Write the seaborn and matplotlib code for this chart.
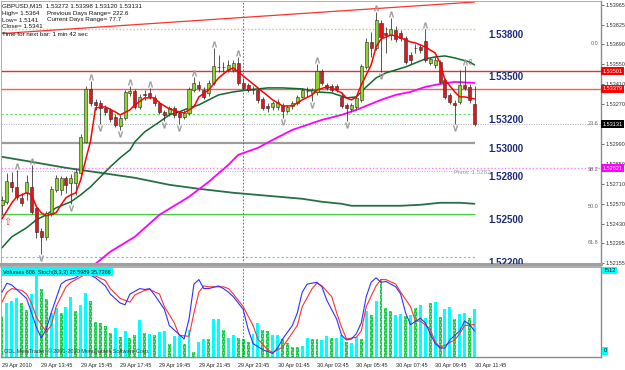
import matplotlib
matplotlib.use("Agg")
import matplotlib.pyplot as plt
import seaborn as sns
import numpy as np
import pandas as pd

# GBPUSD M15 candles, 29 Apr 2010 11:45 -> 30 Apr 2010 11:45
opens = [1.52565, 1.52586, 1.52726, 1.52691, 1.52614, 1.52649, 1.52691, 1.52544, 1.52383, 1.52341,
         1.52502, 1.52670, 1.52670, 1.52754, 1.52719, 1.52719, 1.52789, 1.53006, 1.53377, 1.53286,
         1.53279, 1.53244, 1.53230, 1.53181, 1.53118, 1.53174, 1.53349, 1.53363, 1.53251, 1.53342,
         1.53349, 1.53314, 1.53279, 1.53216, 1.53209, 1.53244, 1.53209, 1.53181, 1.53209, 1.53370,
         1.53405, 1.53370, 1.53349, 1.53419, 1.53531, 1.53531, 1.53510, 1.53510, 1.53559, 1.53419,
         1.53405, 1.53370, 1.53370, 1.53307, 1.53258, 1.53251, 1.53251, 1.53258, 1.53223, 1.53258,
         1.53279, 1.53321, 1.53363, 1.53349, 1.53356, 1.53503, 1.53405, 1.53398, 1.53398, 1.53321,
         1.53265, 1.53237, 1.53251, 1.53300, 1.53531, 1.53706, 1.53664, 1.53839, 1.53769, 1.53755,
         1.53790, 1.53769, 1.53734, 1.53615, 1.53664, 1.53671, 1.53713, 1.53559, 1.53545, 1.53566,
         1.53440, 1.53335, 1.53279, 1.53286, 1.53405, 1.53391, 1.53272]
highs = [1.52628, 1.52789, 1.52796, 1.52810, 1.52649, 1.52775, 1.52845, 1.52565, 1.52404, 1.52523,
         1.52698, 1.52775, 1.52768, 1.52768, 1.52782, 1.52824, 1.53062, 1.53398, 1.53433, 1.53307,
         1.53300, 1.53265, 1.53244, 1.53202, 1.53195, 1.53370, 1.53398, 1.53377, 1.53342, 1.53370,
         1.53384, 1.53335, 1.53293, 1.53230, 1.53258, 1.53258, 1.53223, 1.53230, 1.53391, 1.53461,
         1.53433, 1.53391, 1.53440, 1.53664, 1.53615, 1.53566, 1.53580, 1.53580, 1.53601, 1.53454,
         1.53419, 1.53398, 1.53384, 1.53321, 1.53279, 1.53293, 1.53307, 1.53279, 1.53265, 1.53293,
         1.53335, 1.53384, 1.53391, 1.53384, 1.53552, 1.53517, 1.53419, 1.53412, 1.53412, 1.53356,
         1.53279, 1.53279, 1.53328, 1.53552, 1.53734, 1.53776, 1.53916, 1.53860, 1.53811, 1.53874,
         1.53818, 1.53790, 1.53748, 1.53636, 1.53692, 1.53692, 1.53797, 1.53601, 1.53601, 1.53580,
         1.53454, 1.53349, 1.53300, 1.53510, 1.53538, 1.53412, 1.53398]
lows = [1.52495, 1.52572, 1.52656, 1.52600, 1.52558, 1.52600, 1.52502, 1.52334, 1.52222, 1.52320,
        1.52488, 1.52656, 1.52635, 1.52649, 1.52572, 1.52635, 1.52754, 1.52999, 1.53258, 1.53230,
        1.53132, 1.53195, 1.53146, 1.53111, 1.53090, 1.53160, 1.53328, 1.53237, 1.53237, 1.53300,
        1.53307, 1.53258, 1.53202, 1.53153, 1.53188, 1.53174, 1.53132, 1.53167, 1.53195, 1.53356,
        1.53363, 1.53307, 1.53328, 1.53405, 1.53496, 1.53496, 1.53496, 1.53496, 1.53405, 1.53370,
        1.53356, 1.53342, 1.53279, 1.53230, 1.53216, 1.53230, 1.53230, 1.53174, 1.53209, 1.53237,
        1.53265, 1.53314, 1.53321, 1.53293, 1.53335, 1.53405, 1.53370, 1.53356, 1.53356, 1.53244,
        1.53153, 1.53216, 1.53230, 1.53286, 1.53517, 1.53601, 1.53650, 1.53496, 1.53629, 1.53720,
        1.53706, 1.53713, 1.53552, 1.53552, 1.53629, 1.53629, 1.53566, 1.53545, 1.53524, 1.53412,
        1.53307, 1.53272, 1.53132, 1.53272, 1.53370, 1.53279, 1.53120]
closes = [1.52600, 1.52733, 1.52691, 1.52621, 1.52579, 1.52726, 1.52516, 1.52376, 1.52341, 1.52509,
          1.52677, 1.52754, 1.52754, 1.52705, 1.52754, 1.52796, 1.53041, 1.53377, 1.53279, 1.53265,
          1.53244, 1.53216, 1.53167, 1.53125, 1.53174, 1.53356, 1.53363, 1.53251, 1.53321, 1.53335,
          1.53321, 1.53279, 1.53216, 1.53195, 1.53244, 1.53195, 1.53181, 1.53209, 1.53377, 1.53419,
          1.53384, 1.53321, 1.53419, 1.53538, 1.53531, 1.53531, 1.53545, 1.53559, 1.53419, 1.53384,
          1.53370, 1.53370, 1.53300, 1.53244, 1.53244, 1.53279, 1.53286, 1.53223, 1.53251, 1.53279,
          1.53321, 1.53370, 1.53363, 1.53370, 1.53503, 1.53419, 1.53384, 1.53370, 1.53377, 1.53258,
          1.53244, 1.53265, 1.53314, 1.53538, 1.53706, 1.53664, 1.53860, 1.53741, 1.53755, 1.53797,
          1.53727, 1.53734, 1.53566, 1.53580, 1.53664, 1.53650, 1.53580, 1.53587, 1.53580, 1.53426,
          1.53321, 1.53286, 1.53265, 1.53405, 1.53384, 1.53300, 1.53131]

# moving averages (sampled along the drawn lines)
fast_bars = [0, 2, 3, 5, 6, 7, 8, 9, 11, 12, 13, 14, 15, 16, 17, 18, 19, 21, 23, 24,
             26, 27, 29, 31, 32, 34, 36, 37, 39, 40, 42, 44, 46, 47, 48, 50, 52, 53, 55, 57,
             59, 61, 63, 64, 66, 67, 69, 70, 71, 72, 73, 75, 76, 77, 79, 80, 81, 83, 84, 86,
             87, 88, 89, 90, 92, 93, 94, 96]
fast_ma = [1.52467, 1.52579, 1.52621, 1.52649, 1.52635, 1.52551, 1.52509, 1.52488, 1.52509, 1.52565,
           1.52614, 1.52635, 1.52649, 1.52740, 1.52880, 1.53013, 1.53244, 1.53251, 1.53216, 1.53195,
           1.53230, 1.53265, 1.53314, 1.53314, 1.53279, 1.53237, 1.53216, 1.53209, 1.53251, 1.53321,
           1.53370, 1.53454, 1.53510, 1.53524, 1.53496, 1.53440, 1.53384, 1.53356, 1.53300, 1.53258,
           1.53258, 1.53300, 1.53335, 1.53370, 1.53391, 1.53384, 1.53349, 1.53314, 1.53300, 1.53321,
           1.53405, 1.53545, 1.53671, 1.53727, 1.53755, 1.53748, 1.53734, 1.53706, 1.53699, 1.53671,
           1.53650, 1.53629, 1.53559, 1.53440, 1.53356, 1.53321, 1.53321, 1.53307]
mid_bars = [0, 2, 5, 7, 9, 11, 14, 16, 18, 20, 22, 24, 26, 27, 29, 32, 34, 36, 38, 40,
            42, 44, 47, 50, 54, 57, 61, 64, 67, 70, 72, 74, 76, 78, 80, 82, 84, 86, 88, 90,
            92, 95, 96]
mid_ma = [1.52264, 1.52341, 1.52404, 1.52460, 1.52495, 1.52544, 1.52586, 1.52635, 1.52691, 1.52761,
          1.52831, 1.52894, 1.52950, 1.53006, 1.53076, 1.53146, 1.53195, 1.53216, 1.53244, 1.53265,
          1.53300, 1.53335, 1.53356, 1.53370, 1.53384, 1.53384, 1.53377, 1.53356, 1.53349, 1.53314,
          1.53321, 1.53391, 1.53454, 1.53489, 1.53510, 1.53531, 1.53559, 1.53587, 1.53601, 1.53608,
          1.53594, 1.53566, 1.53545]
slow_bars = [0, 6, 13, 20, 27, 34, 40, 47, 54, 61, 65, 69, 71, 81, 85, 89, 93, 96]
slow_ma = [1.52901, 1.52866, 1.52824, 1.52789, 1.52754, 1.52705, 1.52677, 1.52649, 1.52628, 1.52607,
           1.52586, 1.52572, 1.52558, 1.52558, 1.52565, 1.52579, 1.52579, 1.52572]
mag_bars = [18, 22, 27, 32, 38, 42, 46, 48, 52, 55, 59, 65, 69, 72, 74, 77, 80, 83, 86, 89, 92, 96]
mag_ma = [1.52124, 1.52236, 1.52341, 1.52495, 1.52621, 1.52726, 1.52845, 1.52915, 1.52964, 1.53020,
          1.53090, 1.53160, 1.53195, 1.53230, 1.53258, 1.53300, 1.53335, 1.53356, 1.53391, 1.53412,
          1.53426, 1.53419]

frac_up = [3, 6, 18, 26, 30, 39, 43, 48, 64, 76, 79, 86, 94]
frac_down = [8, 14, 20, 24, 33, 36, 57, 63, 70, 77, 92]

trend_bars = [0, 96]
trend_prices = [1.53765, 1.53986]

# volumes + stochastic(8,3,3)
volumes = [686, 902, 945, 999, 913, 794, 1053, 1512, 1145, 967, 740, 821, 740, 848, 1010, 767, 875, 1080,
           945, 589, 578, 513, 405, 481, 335, 443, 319, 373, 616, 405, 383, 373, 427, 443, 211, 351,
           351, 211, 459, 81, 254, 308, 308, 632, 643, 459, 319, 373, 319, 308, 254, 389, 578, 454,
           443, 373, 373, 308, 243, 173, 173, 189, 319, 308, 308, 281, 351, 319, 319, 362, 254, 227,
           335, 308, 767, 713, 940, 1307, 821, 767, 713, 724, 686, 713, 821, 875, 659, 902, 929, 675,
           805, 832, 643, 724, 740, 659, 806]
vol_kind = ("gcccggccgg" "ccgccgccgg" "gggcgcggcg" "cgccgccgcg" "ccgccgccgg"
            "gccggccggg" "gccggccgcc" "gccgcgcggg" "ccgcgccgcg" "ccgccgc")
k_bars = [0, 1, 2, 4, 5, 6, 7, 8, 9, 10, 12, 13, 15, 16, 17, 18, 19, 21, 22, 24,
          25, 26, 28, 29, 30, 31, 33, 34, 36, 37, 38, 39, 40, 41, 42, 44, 45, 46, 47, 49,
          50, 51, 53, 55, 56, 57, 59, 60, 61, 62, 64, 65, 66, 68, 69, 70, 71, 72, 73, 74,
          75, 76, 77, 78, 80, 81, 82, 83, 85, 86, 87, 88, 89, 90, 91, 93, 94, 95, 96]
stoch_k = [72, 82, 80, 70, 65, 49, 33, 21, 31, 49, 81, 85, 88, 92, 94, 91, 88, 79, 70, 60,
           58, 70, 76, 75, 76, 69, 53, 35, 25, 20, 42, 81, 86, 76, 76, 79, 76, 72, 67, 53,
           31, 15, 8, 4, 10, 20, 35, 49, 72, 81, 83, 78, 63, 42, 24, 19, 20, 26, 38, 67,
           83, 88, 83, 84, 78, 70, 49, 36, 43, 38, 26, 15, 10, 10, 19, 29, 40, 36, 29]
d_bars = [0, 1, 2, 4, 5, 6, 7, 9, 10, 11, 13, 14, 15, 17, 18, 19, 21, 22, 24, 26,
          27, 29, 30, 32, 33, 35, 36, 38, 39, 40, 41, 42, 44, 45, 46, 47, 49, 51, 52, 54,
          55, 57, 58, 60, 61, 63, 64, 65, 67, 68, 69, 70, 72, 73, 74, 76, 77, 78, 80, 81,
          83, 84, 85, 87, 88, 89, 90, 92, 93, 94, 96]
stoch_d = [61, 72, 76, 74, 70, 60, 44, 28, 35, 56, 78, 83, 86, 92, 92, 90, 85, 76, 65, 61,
           69, 74, 75, 70, 56, 38, 24, 23, 49, 72, 79, 78, 78, 78, 76, 70, 56, 35, 20, 8,
           5, 11, 19, 35, 56, 76, 82, 79, 67, 49, 33, 20, 22, 29, 56, 79, 86, 86, 81, 72,
           56, 40, 40, 31, 17, 11, 13, 19, 26, 35, 36]

# levels and labels
round_levels = [1.538, 1.535, 1.532, 1.530, 1.528, 1.525, 1.522]
price_ticks = [1.53965, 1.53825, 1.53690, 1.53550, 1.53410, 1.53270, 1.53130,
               1.52990, 1.52850, 1.52710, 1.52570, 1.52430, 1.52295, 1.52155]
axis_marks = [1.53501, 1.53379, 1.53131, 1.52821]
fib_names = ["0.0", "23.6", "38.2", "50.0", "61.8"]
fib_prices = [1.53692, 1.53132, 1.52810, 1.52551, 1.52299]
pivot = 1.5282
sep_bar = 49
time_bars = [0, 8, 16, 24, 32, 40, 48, 56, 64, 72, 80, 88, 96]
time_labels = ["29 Apr 2010", "29 Apr 13:45", "29 Apr 15:45", "29 Apr 17:45", "29 Apr 19:45",
               "29 Apr 21:45", "29 Apr 23:45", "30 Apr 01:45", "30 Apr 03:45", "30 Apr 05:45",
               "30 Apr 07:45", "30 Apr 09:45", "30 Apr 11:45"]
header_left = ["GBPUSD,M15  1.53272 1.53398 1.53120 1.53131", "High= 1.5364", "Low= 1.5141",
               "Close= 1.5341", "Time for next bar: 1 min 42 sec"]
header_right = ["Previous Days Range= 222.6", "Current Days Range= 77.7"]

sns.set_style("white")
plt.rcParams["font.family"] = ["Liberation Sans", "DejaVu Sans"]
plt.rcParams["hatch.linewidth"] = 0.6

df = pd.DataFrame({"bar": np.arange(len(opens)), "open": opens, "high": highs,
                   "low": lows, "close": closes})
df["up"] = df["close"] >= df["open"]
df["body_lo"] = df[["open", "close"]].min(axis=1)
df["body_h"] = (df["close"] - df["open"]).abs().clip(lower=0.00002)

fig = plt.figure(figsize=(6.25, 3.7), dpi=100)
ax = fig.add_axes([1 / 625, 1 - 264 / 370, 600 / 625, 263 / 370])
axv = fig.add_axes([1 / 625, 1 - 357 / 370, 600 / 625, 90 / 370])
xmin, xmax = -0.2, 121.7
last = len(opens) - 1

# horizontal levels
ax.hlines(1.5380, xmin, last, color="#c8c49a", lw=1, ls=(0, (1, 1.5)))
ax.axhline(axis_marks[0], color="#d9362c", lw=1)
ax.axhline(axis_marks[1], color="#ff5a5a", lw=1)
ax.hlines(1.5320, xmin, last, color="#5fe05f", lw=0.8, ls=(0, (2, 2)))
ax.axhline(axis_marks[2], color="#a8a8a8", lw=0.7, ls=(0, (1, 1.5)))
ax.hlines(1.5300, xmin, last, color="#9c9c9c", lw=1.6)
ax.axhline(axis_marks[3], color="#ff7cff", lw=1, ls=(0, (1, 1.5)))
ax.hlines(1.5280, xmin, last, color="#b0b0b0", lw=0.7, ls=(0, (1, 1.5)))
ax.hlines(1.5250, xmin, last, color="#3fcf3f", lw=0.9)
ax.hlines(1.5220, xmin, last, color="#5fe05f", lw=0.8, ls=(0, (2, 2)))
ax.axvline(sep_bar, color="#555555", lw=0.6, ls=(0, (2, 2)))
sns.lineplot(x=trend_bars, y=trend_prices, ax=ax, color="#ff3030", lw=0.9)

# moving averages
sns.lineplot(x=slow_bars, y=slow_ma, ax=ax, color="#2a6e45", lw=1.3, zorder=2)
sns.lineplot(x=mag_bars, y=mag_ma, ax=ax, color="#ff00ff", lw=1.3, zorder=2)
sns.lineplot(x=mid_bars, y=mid_ma, ax=ax, color="#0e6a2c", lw=1.1, zorder=2)

# candles
ax.vlines(df["bar"], df["low"], df["high"], color="#3a3a3a", lw=0.6, zorder=3)
for is_up, face in [(True, "#8cd52c"), (False, "#e3161c")]:
    d = df[df["up"] == is_up]
    ax.bar(d["bar"], d["body_h"], bottom=d["body_lo"], width=0.62, color=face,
           edgecolor="#262626", lw=0.4, zorder=4)
sns.lineplot(x=fast_bars, y=fast_ma, ax=ax, color="#ff0000", lw=1.1, zorder=5)

# fractals
hi = df.set_index("bar")["high"]
lo = df.set_index("bar")["low"]
ax.scatter(frac_up, hi[frac_up] + 0.0003, marker=r"$\wedge$", s=16, color="#9a9a9a", lw=0.3, zorder=5)
ax.scatter(frac_down, lo[frac_down] - 0.0003, marker=r"$\vee$", s=16, color="#9a9a9a", lw=0.3, zorder=5)
ax.text(1, 1.52446, "⇧", color="#ff3030", fontsize=7, ha="center", va="center", zorder=6,
        family=["DejaVu Sans"])
ax.text(95, 1.53560, "⇩", color="#ff3030", fontsize=6, ha="center", va="center", zorder=6,
        family=["DejaVu Sans"])

for lv in round_levels:
    ax.text(98.8, lv - 0.00008, f"{lv:.5f}", color="#1d2a7c", fontsize=7, fontweight="bold",
            ha="left", va="top", clip_on=True)
ax.text(99.2, pivot - 0.00010, f"Pivot: {pivot}", color="#9a9a9a", fontsize=4.5, ha="right", va="top")
for name, p in zip(fib_names, fib_prices):
    ax.text(121.2, p, name, color="#666666", fontsize=4, ha="right", va="center")

ax.set_xlim(xmin, xmax)
ax.set_ylim(1.52150, 1.53993)
ax.set_xticks([])
ax.yaxis.tick_right()
ax.set_yticks(price_ticks)
# the 1.53130 label sits under the current-price box, as in MetaTrader
ax.set_yticklabels(["" if p in axis_marks or abs(p - axis_marks[2]) < 0.00005 else f"{p:.5f}"
                    for p in price_ticks])
ax.tick_params(axis="y", labelsize=4, length=2, pad=1, colors="#333333", width=0.5)
ax.set_xlabel("")
ax.set_ylabel("")
for side, lw, col in [("left", 0.6, "#a0a0a0"), ("top", 0.6, "#a0a0a0"),
                      ("right", 1.0, "#8a8a8a"), ("bottom", 2.2, "#a0a0a0")]:
    ax.spines[side].set_linewidth(lw)
    ax.spines[side].set_color(col)

for p, col in zip(axis_marks, ["#ff0000", "#ff0000", "#000000", "#ff00ff"]):
    ax.text(1.003, p, f"{p:.5f}", transform=ax.get_yaxis_transform(), fontsize=4, color="white",
            ha="left", va="center", zorder=10, clip_on=False,
            bbox=dict(boxstyle="square,pad=0.25", fc=col, ec="none"))

for k, line in enumerate(header_left):
    fig.text(2 / 625, 1 - (6 + 7 * k) / 370, line, fontsize=4.5, color="#111111", va="center")
for k, line in enumerate(header_right):
    fig.text(47 / 625, 1 - (13 + 7 * k) / 370, line, fontsize=4.5, color="#111111", va="center")

# volume / stochastic panel
vol = pd.DataFrame({"bar": np.arange(len(volumes)), "vol": volumes, "kind": list(vol_kind)})
vc = vol[vol["kind"] == "c"]
vg = vol[vol["kind"] == "g"]
axv.bar(vc["bar"], vc["vol"], width=0.6, color="#00ffff", lw=0, zorder=2)
axv.bar(vg["bar"], vg["vol"], width=0.6, color="#18c84a", hatch="......", edgecolor="#8dffb0",
        lw=0, zorder=2)
axv.axvline(sep_bar, color="#555555", lw=0.6, ls=(0, (2, 2)), zorder=3)
axv.set_xlim(xmin, xmax)
axv.set_ylim(0, 1512)
axv.set_yticks([])
axv.set_xticks(time_bars)
axv.set_xticklabels(time_labels)
for lab in axv.get_xticklabels():
    lab.set_ha("left")
axv.tick_params(axis="x", labelsize=4, length=3, pad=1, colors="#222222", width=0.5, direction="out")
for side, lw, col in [("left", 0.6, "#a0a0a0"), ("top", 1.2, "#a0a0a0"),
                      ("right", 1.0, "#8a8a8a"), ("bottom", 1.0, "#8a8a8a")]:
    axv.spines[side].set_linewidth(lw)
    axv.spines[side].set_color(col)

axs = axv.twinx()
sns.lineplot(x=d_bars, y=stoch_d, ax=axs, color="#ff3030", lw=0.8)
sns.lineplot(x=k_bars, y=stoch_k, ax=axs, color="#3030ff", lw=0.8)
axs.set_ylim(0, 100)
axs.set_xlim(xmin, xmax)
axs.set_yticks([])
axs.set_ylabel("")
for s in axs.spines.values():
    s.set_visible(False)

axs.text(0.004, 0.97, f"Volumes {volumes[-1]}  Stoch(8,3,3) 28.5989 35.7266", transform=axs.transAxes,
         fontsize=4, color="#111111", ha="left", va="top",
         bbox=dict(boxstyle="square,pad=0.3", fc="#00ffff", ec="none"))
axs.text(0.005, 0.03, "ODL MetaTrader, © 2001-2010 MetaQuotes Software Corp.", transform=axs.transAxes,
         fontsize=4, color="#333333", ha="left", va="bottom")
axs.text(1.004, 0.99, "1512", transform=axs.transAxes, fontsize=4, color="#111111", ha="left", va="top",
         clip_on=False, bbox=dict(boxstyle="square,pad=0.2", fc="#00ffff", ec="none"))
axs.text(1.004, 0.04, "0", transform=axs.transAxes, fontsize=4, color="#111111", ha="left", va="bottom",
         clip_on=False, bbox=dict(boxstyle="square,pad=0.2", fc="#00ffff", ec="none"))

fig.savefig("out.png", dpi=100, facecolor="white")
